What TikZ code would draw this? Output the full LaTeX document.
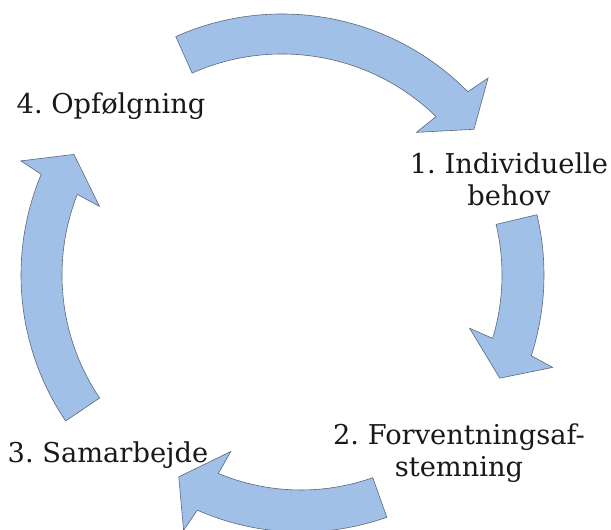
\documentclass[tikz,border=0pt]{standalone}
\usepackage{fontspec}
\setmainfont{DejaVu Serif}
\frenchspacing
\definecolor{bandfill}{RGB}{160,192,231}
\definecolor{bandline}{RGB}{90,104,126}
\newcommand{\cyclearrow}[6]{%
  \filldraw[arrowband, shift={(#1,#2)}]
    (#5:#3) arc[start angle=#5, end angle={#6-0.6}, radius=#3]
    -- ({#6-1.5}:{#3+24}) -- ({#6-8}:{(#3+#4)/2}) -- ({#6+1.5}:{#4-25})
    -- ({#6+0.6}:#4) arc[start angle={#6+0.6}, end angle=#5, radius=#4]
    -- cycle;}
\begin{document}
\begin{tikzpicture}[x=1pt,y=1pt,
  arrowband/.style={fill=bandfill, draw=bandline, line width=0.6pt, line join=miter},
  label/.style={font=\fontsize{27.3}{32}\selectfont, text=black!90, align=center, inner sep=0pt}]
\useasboundingbox (0,0) rectangle (611,530);
\clip (0,0) rectangle (611,530);
\fill[white] (0,0) rectangle (611,530);
% arrows
\cyclearrow{282}{255}{261}{221}{114}{45.2}
\cyclearrow{282}{255}{262}{220}{13.3}{-17.35}
\cyclearrow{301}{255}{257}{215}{-70.5}{-113.2}
\cyclearrow{282}{255}{261}{220}{214}{157.9}
% labels
\node[label, anchor=base] (l4) at (111,416) {4. Opfølgning};
\node[label, anchor=base] (l1) at (509,324) {1. Individuelle\\behov};
\node[label, anchor=base] (l2) at (459,53) {2. Forventningsaf-\\stemning};
\node[label, anchor=base] (l3) at (108,67) {3. Samarbejde};
\end{tikzpicture}
\end{document}
